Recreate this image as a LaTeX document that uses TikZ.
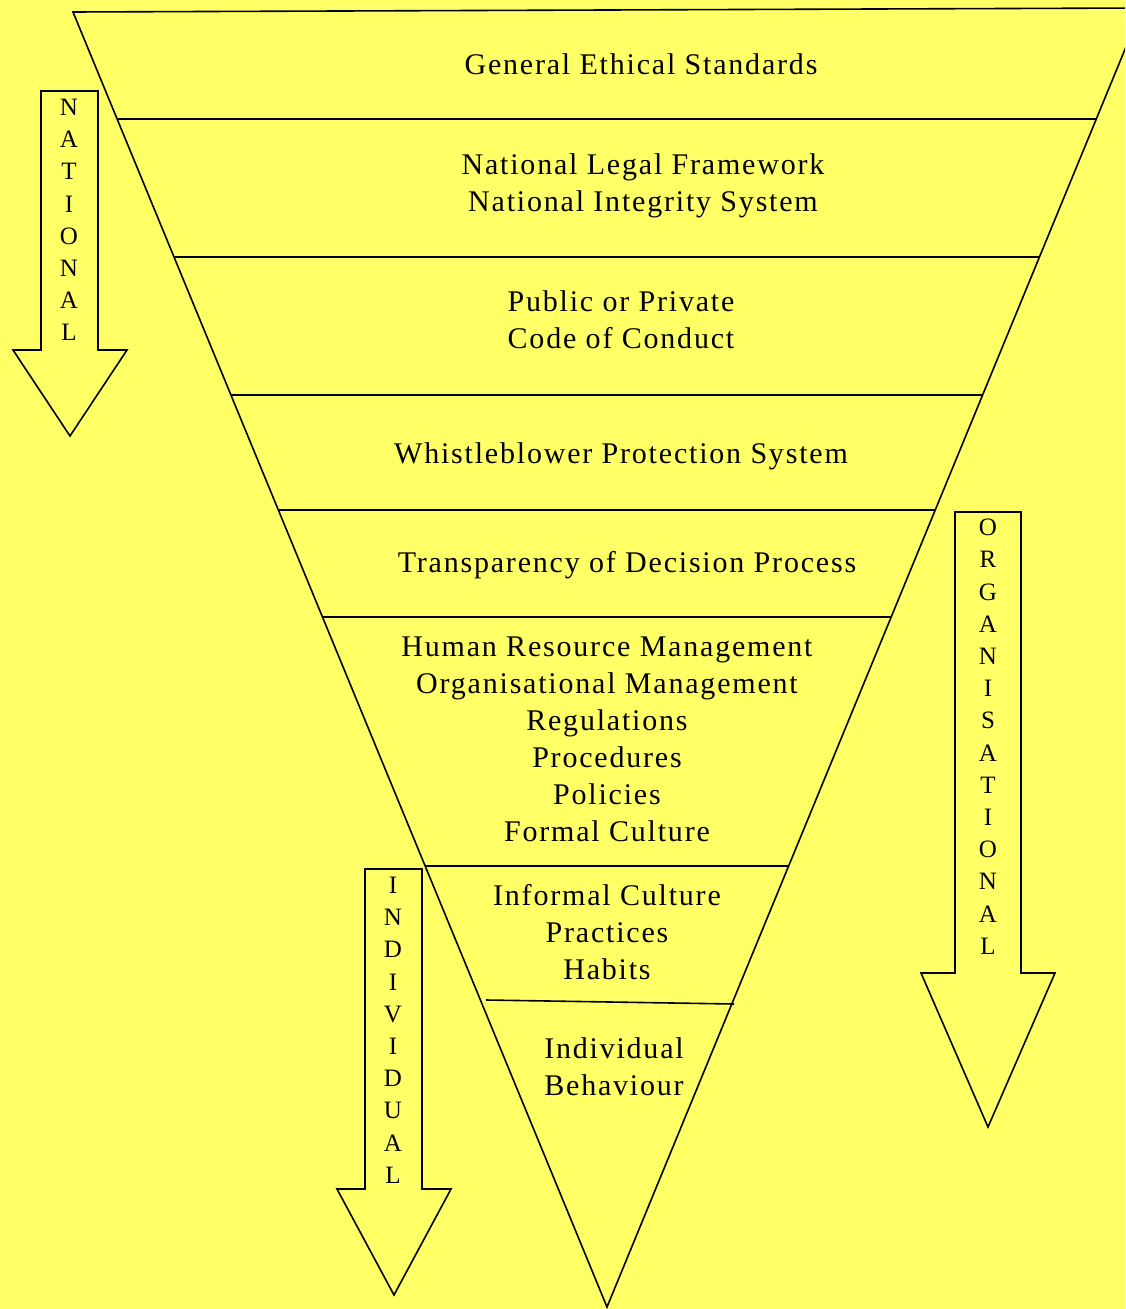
\documentclass[tikz,border=0pt]{standalone}
\usepackage{fontspec}
\setmainfont{Liberation Serif}
\newfontfamily\spacedfont[LetterSpace=6]{Liberation Serif}
\definecolor{bgyellow}{RGB}{255,255,102}
\tikzset{
  outline/.style={draw=black, line width=1.6pt, line join=miter},
  divider/.style={draw=black, line width=1.6pt},
  label/.style={font=\spacedfont\fontsize{30}{37}\selectfont, align=center, inner sep=0pt, anchor=center},
  vlabel/.style={font=\fontsize{25}{32.2}\selectfont, align=center, inner sep=0pt, anchor=north},
}
\begin{document}
\begin{tikzpicture}[x=1pt,y=-1pt]
\useasboundingbox (0,0) rectangle (1125,1309);
\fill[bgyellow] (0,0) rectangle (1125,1309);
\begin{scope}
\clip (0,0) rectangle (1125,1309);
% inverted triangle
\draw[outline] (73,12) -- (1142,8) -- (607,1307) -- cycle;
% dividers
\draw[divider] (117,119) -- (1096,119);
\draw[divider] (174,257) -- (1039,257);
\draw[divider] (231,395) -- (982,395);
\draw[divider] (278,510) -- (935,510);
\draw[divider] (322,617) -- (891,617);
\draw[divider] (425,866) -- (789,866);
\draw[divider] (486,1000) -- (734,1004);
\end{scope}
% arrows
\draw[outline, fill=bgyellow] (41,91) -- (98,91) -- (98,350) -- (127,350) -- (70,436) -- (13,350) -- (41,350) -- cycle;
\draw[outline, fill=bgyellow] (955,512) -- (1021,512) -- (1021,973) -- (1055,973) -- (988,1127) -- (921,973) -- (955,973) -- cycle;
\draw[outline, fill=bgyellow] (365,869) -- (422,869) -- (422,1189) -- (451,1189) -- (394,1295) -- (337,1189) -- (365,1189) -- cycle;
% vertical labels
\node[vlabel] (national) at (69,99) {N\\A\\T\\I\\O\\N\\A\\L};
\node[vlabel] (organisational) at (988,519) {O\\R\\G\\A\\N\\I\\S\\A\\T\\I\\O\\N\\A\\L};
\node[vlabel] (individual) at (393,877) {I\\N\\D\\I\\V\\I\\D\\U\\A\\L};
% layer labels
\node[label] (ethical) at (641,64) {General Ethical Standards};
\node[label] (legal) at (643,186) {National Legal Framework\\National Integrity System};
\node[label] (code) at (621,320) {Public or Private\\Code of Conduct};
\node[label] (whistle) at (621,456) {Whistleblower Protection System};
\node[label] (transp) at (627,565) {Transparency of Decision Process};
\node[label] (hrm) at (607,739) {Human Resource Management\\Organisational Management\\Regulations\\Procedures\\Policies\\Formal Culture};
\node[label] (informal) at (607,932) {Informal Culture\\Practices\\Habits};
\node[label] (indiv) at (614,1067) {Individual\\Behaviour};
\end{tikzpicture}
\end{document}
